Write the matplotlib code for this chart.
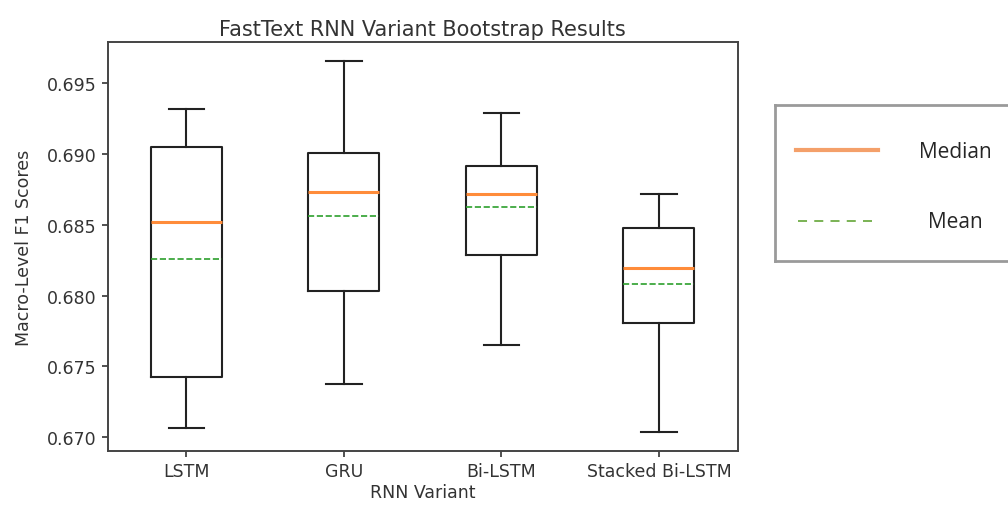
import matplotlib
matplotlib.use("Agg")
import matplotlib.pyplot as plt
from matplotlib.lines import Line2D

# bootstrap summary
variants = ["LSTM", "GRU", "Bi-LSTM", "Stacked Bi-LSTM"]
whislo = [0.67066, 0.67374, 0.67650, 0.67037]
q1 = [0.67424, 0.68035, 0.68285, 0.67807]
med = [0.68523, 0.68730, 0.68718, 0.68194]
mean = [0.68257, 0.68563, 0.68624, 0.68083]
q3 = [0.69050, 0.69006, 0.68918, 0.68478]
whishi = [0.69316, 0.69655, 0.69288, 0.68718]

stats = []
for i, name in enumerate(variants):
    stats.append(dict(label=name, whislo=whislo[i], q1=q1[i], med=med[i],
                      mean=mean[i], q3=q3[i], whishi=whishi[i], fliers=[]))

plt.rcParams["text.color"] = "#333333"
plt.rcParams["axes.labelcolor"] = "#333333"
plt.rcParams["xtick.labelcolor"] = "#333333"
plt.rcParams["ytick.labelcolor"] = "#333333"

fig = plt.figure(figsize=(10.08, 5.1), dpi=100)
ax = fig.add_axes([0.1068, 0.1143, 0.625, 0.8007])

ax.bxp(stats, showmeans=True, meanline=True,
       boxprops=dict(linewidth=1.5, color="#222222"),
       whiskerprops=dict(linewidth=1.5, color="#222222"),
       capprops=dict(linewidth=1.5, color="#222222"),
       medianprops=dict(color="#ff8c3a", linewidth=2.2),
       meanprops=dict(color="#2ca02c", linestyle="--", linewidth=1.2))

ax.set_ylim(0.66905, 0.6979)
ax.set_yticks([0.670, 0.675, 0.680, 0.685, 0.690, 0.695])
ax.tick_params(labelsize=12.5, width=1.2, length=4.5, color="#333333")
for s in ax.spines.values():
    s.set_linewidth(1.4)
    s.set_color("#444444")
ax.set_title("FastText RNN Variant Bootstrap Results", fontsize=15, pad=5)
ax.set_xlabel("RNN Variant", fontsize=12.5, labelpad=2)
ax.set_ylabel("Macro-Level F1 Scores", fontsize=12.5, labelpad=10)

# separate legend panel at right
lg = fig.add_axes([775 / 1008, 1 - 262 / 510, 0.25, 156 / 510])
lg.set_xlim(775, 1027)
lg.set_ylim(262, 106)
lg.set_xticks([])
lg.set_yticks([])
for s in lg.spines.values():
    s.set_color("#9a9a9a")
    s.set_linewidth(2)
lg.add_line(Line2D([796, 878], [151, 151], color="#f4a06a", linewidth=3))
lg.add_line(Line2D([798, 872], [222, 222], color="#70ad47", linewidth=1.3,
                   linestyle=(0, (5, 4))))
lg.text(955, 153, "Median", fontsize=15, family="Open Sans",
        ha="center", va="center", color="#262626")
lg.text(955, 223, "Mean", fontsize=15, family="Open Sans",
        ha="center", va="center", color="#262626")

fig.savefig("out.png", dpi=100)
